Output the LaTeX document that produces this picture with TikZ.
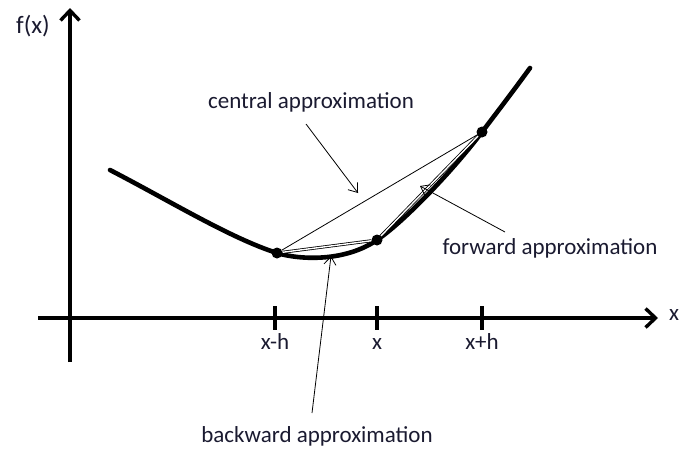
\documentclass[tikz,border=0pt]{standalone}
\usepackage{fontspec}
\setmainfont{Carlito}
\usepackage{xcolor}
\usetikzlibrary{arrows.meta}
\definecolor{txtcol}{HTML}{1a1a30}

\begin{document}
\begin{tikzpicture}[x=1pt,y=-1pt,font=\fontsize{23}{26}\selectfont,
  axis/.style={line width=3.6pt,-{Straight Barb[length=10pt,width=19pt,line width=3.4pt]}},
  tick/.style={line width=3.6pt},
  lbl/.style={text=txtcol,inner sep=1pt},
  dot/.style={circle,fill=black,inner sep=0pt,minimum size=11pt},
  secant/.style={line width=0.8pt,black},
  note/.style={line width=0.8pt,-{Straight Barb[length=8pt,width=12pt]}}]
\useasboundingbox (0,0) rectangle (681,451);
% axes
\coordinate (ystart) at (70,362);
\coordinate (ytip) at (70,8);
\coordinate (xstart) at (38,318);
\coordinate (xtip) at (658,318);
\draw[axis](ystart)--(ytip);
\draw[axis](xstart)--(xtip);
\node[lbl,font=\fontsize{25}{28}\selectfont](fx) at (33,26){f(x)};
\node[lbl](xlab) at (674,315){x};
% ticks
\foreach \p/\t/\n in {275/x-h/a,377/x/b,482/x+h/c}{
  \draw[tick](\p,306)--(\p,330);
  \node[lbl,anchor=base](t\n) at (\p,349){\t};
}
% curve
\coordinate (cstart) at (110,170);
\coordinate (cend) at (530,68);
\draw[line width=4.6pt,line cap=round](cstart)
  .. controls (170,201) and (230,238) .. (277,253)
  .. controls (300,260) and (345,262) .. (377,240)
  .. controls (405,221) and (455,168) .. (482,132)
  .. controls (498,111) and (514,90) .. (cend);
\node[dot](pm) at (277,253){};
\node[dot](p0) at (377,240){};
\node[dot](pp) at (482,132){};
% secants
\draw[secant](pm)--(pp);
\draw[secant,double,double distance=1.4pt](pm)--(p0);
\draw[secant,double,double distance=1.4pt](p0)--(pp);
% notes
\node[lbl](cen) at (311,102){central approximation};
\node[lbl](fwd) at (550,248){forward approximation};
\node[lbl](bwd) at (317,436){backward approximation};
\coordinate (ctail) at (306,124);
\coordinate (chead) at (358,193);
\coordinate (ftail) at (505,232);
\coordinate (fhead) at (420,186);
\coordinate (btail) at (312,413);
\coordinate (bhead) at (331,256);
\draw[note](ctail)--(chead);
\draw[note](ftail)--(fhead);
\draw[note](btail)--(bhead);
\end{tikzpicture}
\end{document}
